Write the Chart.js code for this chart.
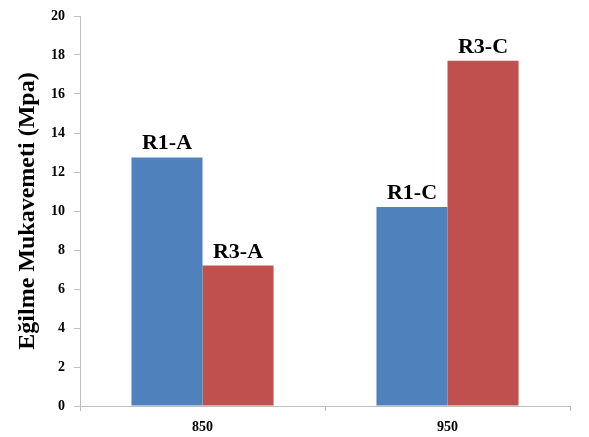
<!DOCTYPE html>
<html>
<head>
<meta charset="utf-8">
<script src="https://cdn.jsdelivr.net/npm/chart.js@4"></script>
<style>
  html, body { margin: 0; padding: 0; background: #fff; }
  #wrap { width: 589px; height: 437px; }
</style>
</head>
<body>
<div id="wrap"><canvas id="myChart" width="589" height="437"></canvas></div>
<script>
// data
const categories = ['850', '950'];
const r1Values = [12.75, 10.2];
const r3Values = [7.2, 17.7];
const r1Labels = ['R1-A', 'R1-C'];
const r3Labels = ['R3-A', 'R3-C'];
const yTicks = [0, 2, 4, 6, 8, 10, 12, 14, 16, 18, 20];

const serif = '"Liberation Serif", "Times New Roman", serif';
const axisGray = '#bfbfbf';

// text over each bar
const barText = {
  id: 'barText',
  afterDatasetsDraw(chart) {
    const ctx = chart.ctx;
    const names = [r1Labels, r3Labels];
    ctx.save();
    ctx.font = 'bold 22px ' + serif;
    ctx.fillStyle = '#000';
    ctx.textAlign = 'center';
    ctx.textBaseline = 'alphabetic';
    chart.data.datasets.forEach((ds, i) => {
      chart.getDatasetMeta(i).data.forEach((bar, j) => {
        ctx.fillText(names[i][j], bar.x, bar.y - 8);
      });
    });
    ctx.restore();
  }
};

new Chart(document.getElementById('myChart'), {
  type: 'bar',
  data: {
    labels: categories,
    datasets: [
      { label: 'R1', data: r1Values, backgroundColor: '#4f81bd', borderWidth: 0 },
      { label: 'R3', data: r3Values, backgroundColor: '#c0504d', borderWidth: 0 }
    ]
  },
  options: {
    responsive: false,
    animation: false,
    categoryPercentage: 0.58,
    barPercentage: 1,
    layout: { padding: { top: 11, right: 19, left: 0, bottom: 0 } },
    plugins: {
      legend: { display: false },
      tooltip: { enabled: false }
    },
    scales: {
      x: {
        grid: { drawOnChartArea: false, drawTicks: true, tickLength: 5, color: axisGray },
        border: { color: axisGray, width: 1 },
        ticks: { color: '#000', font: { family: serif, size: 14, weight: 'bold' }, padding: 8 },
        afterFit(scale) { scale.height = 31; }
      },
      y: {
        min: 0,
        max: 20,
        afterBuildTicks(scale) { scale.ticks = yTicks.map(v => ({ value: v })); },
        grid: { drawOnChartArea: false, drawTicks: true, tickLength: 6, color: axisGray },
        border: { color: axisGray, width: 1 },
        ticks: { color: '#000', font: { family: serif, size: 14, weight: 'bold', lineHeight: 1 }, padding: 9 },
        title: {
          display: true,
          text: 'Eğilme Mukavemeti (Mpa)',
          color: '#000',
          font: { family: serif, size: 24, weight: 'bold' },
          padding: { top: 13, bottom: 0 }
        },
        afterFit(scale) { scale.width = 80; }
      }
    }
  },
  plugins: [barText]
});
</script>
</body>
</html>
